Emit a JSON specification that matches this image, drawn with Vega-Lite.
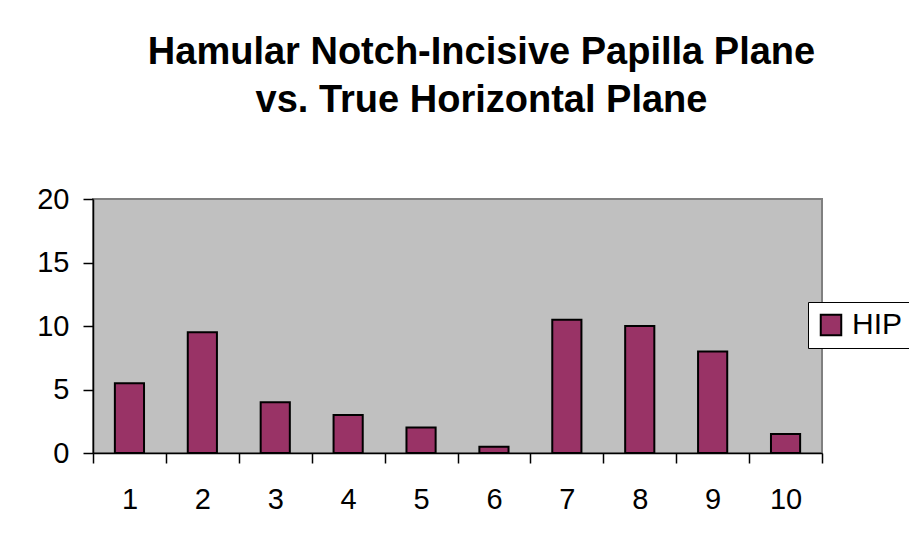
{
  "$schema": "https://vega.github.io/schema/vega-lite/v6.json",
  "width": 729,
  "height": 254,
  "autosize": {"type": "none"},
  "padding": {"left": 93, "top": 199, "right": 87, "bottom": 91},
  "background": "white",
  "title": {
    "text": ["Hamular Notch-Incisive Papilla Plane", "vs. True Horizontal Plane"],
    "font": "Liberation Sans",
    "fontSize": 38,
    "fontWeight": "bold",
    "color": "black",
    "lineHeight": 48,
    "anchor": "middle",
    "frame": "group",
    "dx": 24,
    "offset": 65
  },
  "data": {
    "values": [
      {"x": "1", "value": 5.5, "series": "HIP"},
      {"x": "2", "value": 9.5, "series": "HIP"},
      {"x": "3", "value": 4, "series": "HIP"},
      {"x": "4", "value": 3, "series": "HIP"},
      {"x": "5", "value": 2, "series": "HIP"},
      {"x": "6", "value": 0.5, "series": "HIP"},
      {"x": "7", "value": 10.5, "series": "HIP"},
      {"x": "8", "value": 10, "series": "HIP"},
      {"x": "9", "value": 8, "series": "HIP"},
      {"x": "10", "value": 1.5, "series": "HIP"}
    ]
  },
  "mark": {"type": "bar", "stroke": "black", "strokeWidth": 2, "width": {"band": 0.4}},
  "encoding": {
    "x": {
      "field": "x",
      "type": "ordinal",
      "sort": null,
      "scale": {"paddingInner": 0, "paddingOuter": 0},
      "axis": {
        "title": null,
        "labelAngle": 0,
        "labelFont": "Liberation Sans",
        "labelFontSize": 29,
        "labelColor": "black",
        "labelPadding": 22,
        "tickBand": "extent",
        "tickSize": 10,
        "tickColor": "black",
        "tickWidth": 1.5,
        "domainColor": "black",
        "domainWidth": 1.5,
        "grid": false
      }
    },
    "y": {
      "field": "value",
      "type": "quantitative",
      "scale": {"domain": [0, 20], "nice": false},
      "axis": {
        "title": null,
        "values": [0, 5, 10, 15, 20],
        "labelFont": "Liberation Sans",
        "labelFontSize": 29,
        "labelColor": "black",
        "labelPadding": 14,
        "tickSize": 10,
        "tickColor": "black",
        "tickWidth": 1.5,
        "domainColor": "black",
        "domainWidth": 1.5,
        "grid": false
      }
    },
    "fill": {
      "field": "series",
      "type": "nominal",
      "scale": {"range": ["#993366"]},
      "legend": {
        "title": null,
        "orient": "none",
        "legendX": 715,
        "legendY": 103,
        "symbolType": "square",
        "symbolSize": 420,
        "symbolStrokeColor": "black",
        "symbolStrokeWidth": 2,
        "symbolFillColor": "#993366",
        "labelFont": "Liberation Sans",
        "labelFontSize": 30,
        "labelColor": "black",
        "labelOffset": 6,
        "padding": 8,
        "strokeColor": "black",
        "fillColor": "white"
      }
    }
  },
  "config": {
    "view": {"fill": "#C0C0C0", "stroke": "#808080", "strokeWidth": 2}
  }
}
